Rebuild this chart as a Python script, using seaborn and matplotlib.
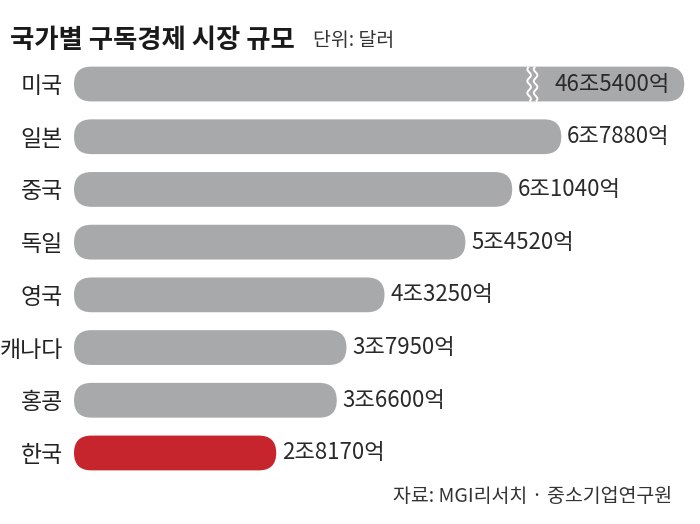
import numpy as np
import pandas as pd
import matplotlib
matplotlib.use("Agg")
import matplotlib.pyplot as plt
from matplotlib.patches import FancyBboxPatch
import seaborn as sns

# ---- data ----
countries = ["미국", "일본", "중국", "독일", "영국", "캐나다", "홍콩", "한국"]
values_eok = [465400, 67880, 61040, 54520, 43250, 37950, 36600, 28170]  # 억 달러
highlight = "한국"
title = "국가별 구독경제 시장 규모"
unit = "단위: 달러"
source = "자료: MGI리서치 · 중소기업연구원"

GREY = "#a8a9ab"
RED = "#c6252d"
CAP = 8.5          # display cap (조) for the broken US bar
XMAX = 8.72

sns.set_theme(style="white")
plt.rcParams["font.family"] = ["Noto Sans CJK KR", "DejaVu Sans"]

vals_jo = np.array(values_eok) / 10000.0
df = pd.DataFrame({"country": countries,
                   "shown": np.minimum(vals_jo, CAP)})
palette = {c: (RED if c == highlight else GREY) for c in countries}

fig = plt.figure(figsize=(7.0, 5.24), dpi=100)
ax = fig.add_axes([74 / 700, 1 - 484.6 / 524, 626 / 700, (484.6 - 52.4) / 524])

sns.barplot(data=df, y="country", x="shown", hue="country", palette=palette,
            orient="h", width=0.66, legend=False, ax=ax, saturation=1)

ax.set_xlim(0, XMAX)
ax.set_ylim(7.6, -0.6)

# convert rectangles into rounded bars
px_x = XMAX / 626.0
px_y = 8.2 / 432.2
aspect = px_y / px_x
for p in list(ax.patches):
    x0, y0, w, h = p.get_x(), p.get_y(), p.get_width(), p.get_height()
    r = (h / aspect) / 2
    fb = FancyBboxPatch((x0, y0), w, h,
                        boxstyle=f"round,pad=0,rounding_size={r}",
                        mutation_aspect=aspect,
                        facecolor=p.get_facecolor(), edgecolor="none",
                        clip_on=False)
    p.remove()
    ax.add_patch(fb)

# value labels
for i, (v, s) in enumerate(zip(values_eok, df["shown"])):
    label = f"{v // 10000}조{v % 10000}억"
    if v / 10000.0 > CAP:
        ax.text(s - 0.2, i, label, ha="right", va="center", fontsize=16,
                color="#2a2a2a")
        # break mark: double wavy white line
        yy = np.linspace(i - 0.33, i + 0.33, 60)
        for xb in (6.34, 6.43):
            xx = xb + 0.025 * np.sin((yy - i) * 28)
            ax.plot(xx, yy, color="white", lw=1.4, solid_capstyle="butt")
    else:
        ax.text(s + 0.08, i, label, ha="left", va="center", fontsize=16,
                color="#2a2a2a")

ax.set_yticks(range(len(countries)))
ax.set_yticklabels(countries, fontsize=16.5, color="#222222")
ax.tick_params(axis="y", length=0, pad=8)
ax.set_xticks([])
ax.set_xlabel("")
ax.set_ylabel("")
for sp in ax.spines.values():
    sp.set_visible(False)

fig.text(10 / 700, 1 - 41 / 524, title, fontsize=19, fontweight="bold",
         ha="left", va="center", color="#1a1a1a")
fig.text(313 / 700, 1 - 41 / 524, unit, fontsize=14, ha="left",
         va="center", color="#333333")
fig.text(672 / 700, 1 - 497 / 524, source, fontsize=14, ha="right",
         va="center", color="#333333")

fig.savefig("out.png", dpi=100)
